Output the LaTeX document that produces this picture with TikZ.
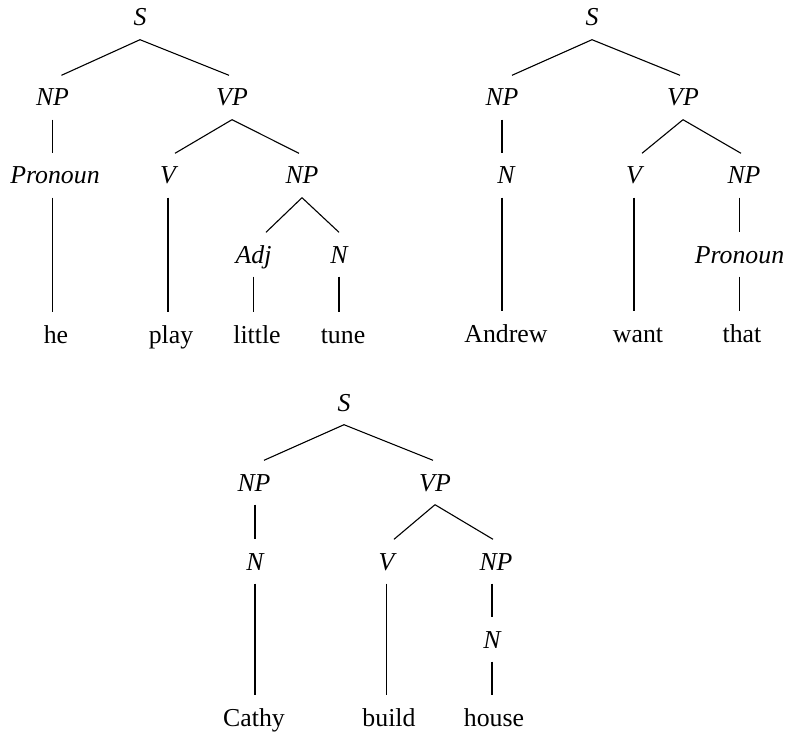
\documentclass[tikz,border=0pt]{standalone}
\usepackage{fontspec}
\setmainfont{Liberation Serif}
\begin{document}
\begin{tikzpicture}[x=1pt,y=-1pt,
  lbl/.style={font=\fontsize{25.8}{30}\selectfont\itshape, anchor=base, inner xsep=0pt, inner ysep=13.5pt, text height=17pt, text depth=0pt},
  word/.style={lbl, font=\fontsize{25.8}{30}\selectfont\upshape},
  edge/.style={line width=1.1pt}]
\useasboundingbox (0,0) rectangle (785,733);

% ---------- Tree 1 ----------
\node[lbl] (S1) at (140,26) {S};
\node[lbl] (NPa) at (52.5,106) {NP};
\node[lbl] (VPa) at (232,106) {VP};
\node[lbl] (Proa) at (55,184) {Pronoun};
\node[lbl] (Va) at (168,184) {V};
\node[lbl] (NPb) at (302,184) {NP};
\node[lbl] (Adja) at (253.5,263) {Adj};
\node[lbl] (Na) at (339,263) {N};
\node[word] (he) at (56,343) {he};
\node[word] (play) at (171,343) {play};
\node[word] (little) at (257,343) {little};
\node[word] (tune) at (343,343) {tune};

\draw[edge] (S1.south) -- ([xshift=9pt]NPa.north);
\draw[edge] (S1.south) -- ([xshift=-3pt]VPa.north);
\draw[edge] (NPa.south) -- (NPa.south |- Proa.north);
\draw[edge] (NPa.south |- Proa.south) -- (NPa.south |- he.north);
\draw[edge] (VPa.south) -- ([xshift=7pt]Va.north);
\draw[edge] (VPa.south) -- ([xshift=-3pt]NPb.north);
\draw[edge] (Va.south) -- (Va.south |- play.north);
\draw[edge] (NPb.south) -- ([xshift=12.5pt]Adja.north);
\draw[edge] (NPb.south) -- (Na.north);
\draw[edge] (Adja.south) -- (Adja.south |- little.north);
\draw[edge] (Na.south) -- (Na.south |- tune.north);

% ---------- Tree 2 ----------
\node[lbl] (S2) at (592,26) {S};
\node[lbl] (NPc) at (502,106) {NP};
\node[lbl] (VPc) at (683,106) {VP};
\node[lbl] (Nc) at (506,184) {N};
\node[lbl] (Vc) at (634,184) {V};
\node[lbl] (NPd) at (744,184) {NP};
\node[lbl] (Prod) at (739.5,263) {Pronoun};
\node[word] (Andrew) at (506,342) {Andrew};
\node[word] (want) at (638,342) {want};
\node[word] (that) at (742,342) {that};

\draw[edge] (S2.south) -- ([xshift=10pt]NPc.north);
\draw[edge] (S2.south) -- ([xshift=-3pt]VPc.north);
\draw[edge] (NPc.south) -- (NPc.south |- Nc.north);
\draw[edge] (NPc.south |- Nc.south) -- (NPc.south |- Andrew.north);
\draw[edge] (VPc.south) -- ([xshift=8pt]Vc.north);
\draw[edge] (VPc.south) -- ([xshift=-3pt]NPd.north);
\draw[edge] (Vc.south) -- (Vc.south |- want.north);
\draw[edge] (Prod.north |- NPd.south) -- (Prod.north);
\draw[edge] (Prod.south) -- (Prod.south |- that.north);

% ---------- Tree 3 ----------
\node[lbl] (S3) at (344,411) {S};
\node[lbl] (NPe) at (254,491) {NP};
\node[lbl] (VPe) at (435,491) {VP};
\node[lbl] (Ne) at (255,570) {N};
\node[lbl] (Ve) at (386.5,570) {V};
\node[lbl] (NPf) at (496,570) {NP};
\node[lbl] (Nf) at (492,648) {N};
\node[word] (Cathy) at (254,726) {Cathy};
\node[word] (build) at (389,726) {build};
\node[word] (house) at (494,726) {house};

\draw[edge] (S3.south) -- ([xshift=10pt]NPe.north);
\draw[edge] (S3.south) -- ([xshift=-2pt]VPe.north);
\draw[edge] (Ne.north |- NPe.south) -- (Ne.north);
\draw[edge] (Ne.south) -- (Ne.south |- Cathy.north);
\draw[edge] (VPe.south) -- ([xshift=7.5pt]Ve.north);
\draw[edge] (VPe.south) -- ([xshift=-3pt]NPf.north);
\draw[edge] (Ve.south) -- (Ve.south |- build.north);
\draw[edge] (Nf.north |- NPf.south) -- (Nf.north);
\draw[edge] (Nf.south) -- (Nf.south |- house.north);
\end{tikzpicture}
\end{document}
